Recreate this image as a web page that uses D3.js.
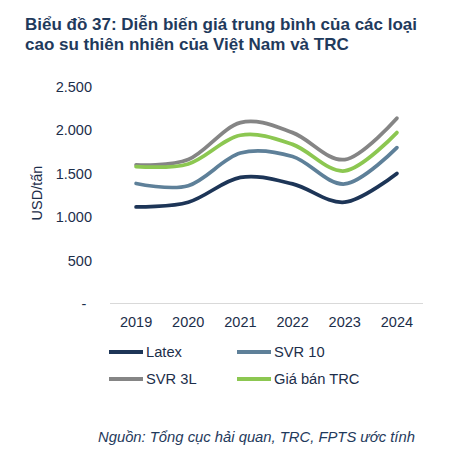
<!DOCTYPE html>
<html><head><meta charset="utf-8">
<script src="https://cdn.jsdelivr.net/npm/d3@7/dist/d3.min.js"></script>
<style>body{margin:0;background:#fff}svg{display:block}text{font-family:"Liberation Sans",Arial,sans-serif}</style>
</head><body>
<svg id="c" width="453" height="461"></svg>
<script>
const years = ["2019","2020","2021","2022","2023","2024"];
const latex = [1115, 1170, 1455, 1380, 1170, 1500];
const svr10 = [1385, 1360, 1735, 1695, 1380, 1797];
const svr3l = [1600, 1660, 2085, 1970, 1660, 2135];
const trc   = [1580, 1610, 1940, 1835, 1530, 1970];
const yTicks = [0, 500, 1000, 1500, 2000, 2500];
const seriesNames = ["Latex", "SVR 10", "SVR 3L", "Giá bán TRC"];

const colors = ["#1d3557", "#5e8099", "#858585", "#8cc751"];
const series = [latex, svr10, svr3l, trc];
const textCol = "#1c2e4a";

const svg = d3.select("#c");
const x = d3.scalePoint().domain(years).range([110, 423]).padding(0.5);
const y = d3.scaleLinear().domain([0, 2500]).range([304, 86.5]);

// title
svg.append("text").attr("x", 25).attr("y", 29.5).attr("font-size", 17).attr("font-weight", "bold")
  .attr("fill", "#1f3a5c").text("Biểu đồ 37: Diễn biến giá trung bình của các loại");
svg.append("text").attr("x", 25).attr("y", 49.5).attr("font-size", 17).attr("font-weight", "bold")
  .attr("fill", "#1f3a5c").text("cao su thiên nhiên của Việt Nam và TRC");

// y axis labels
const fmt = v => v === 0 ? "-" : d3.format(",")(v).replace(/,/g, ".");
svg.append("g").selectAll("text").data(yTicks).join("text")
  .attr("x", d => d === 0 ? 84 : 92).attr("y", d => y(d)).attr("dy", "0.35em")
  .attr("text-anchor", d => d === 0 ? "middle" : "end")
  .attr("font-size", 14.5).attr("fill", textCol).text(fmt);

svg.append("text").attr("transform", "translate(42,193) rotate(-90)")
  .attr("text-anchor", "middle").attr("font-size", 14.5).attr("fill", textCol).text("USD/tấn");

// x axis
svg.append("line").attr("x1", 110).attr("x2", 423).attr("y1", y(0) - 0.5).attr("y2", y(0) - 0.5)
  .attr("stroke", "#d9d9d9").attr("stroke-width", 1);
svg.append("g").selectAll("text").data(years).join("text")
  .attr("x", d => x(d)).attr("y", 327).attr("text-anchor", "middle")
  .attr("font-size", 14.5).attr("fill", textCol).text(d => d);

// lines
const line = d3.line().x((d, i) => x(years[i])).y(d => y(d)).curve(d3.curveCardinal.tension(0));
series.forEach((s, i) => {
  svg.append("path").datum(s).attr("d", line).attr("fill", "none")
    .attr("stroke", colors[i]).attr("stroke-width", 3.75).attr("stroke-linecap", "round");
});

// legend
const legPos = [[109, 352], [237, 352], [109, 379], [237, 379]];
seriesNames.forEach((n, i) => {
  const [lx, ly] = legPos[i];
  svg.append("line").attr("x1", lx).attr("x2", lx + 34).attr("y1", ly).attr("y2", ly)
    .attr("stroke", colors[i]).attr("stroke-width", 4);
  svg.append("text").attr("x", lx + 37).attr("y", ly).attr("dy", "0.35em")
    .attr("font-size", 14.7).attr("fill", textCol).text(n);
});

// source
svg.append("text").attr("x", 98).attr("y", 442).attr("font-size", 14.8).attr("font-style", "italic")
  .attr("fill", "#1f3a5c").text("Nguồn: Tổng cục hải quan, TRC, FPTS ước tính");
</script>
</body></html>
